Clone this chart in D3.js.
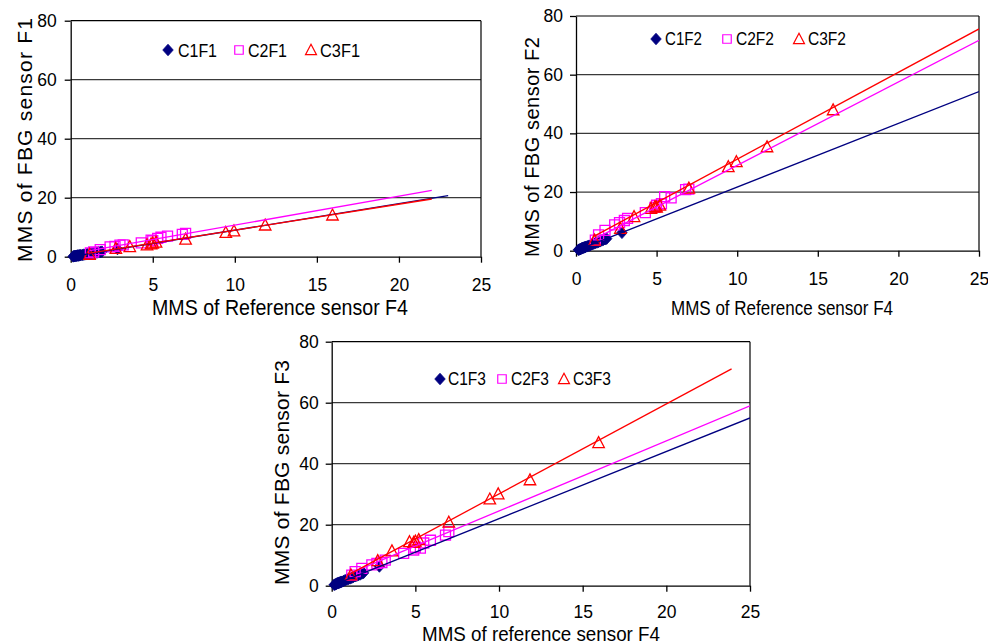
<!DOCTYPE html>
<html>
<head>
<meta charset="utf-8">
<script src="https://cdn.jsdelivr.net/npm/d3@7"></script>
<style>
  html, body { margin: 0; padding: 0; background: #fff; }
  svg { display: block; font-family: "Liberation Sans", Arial, sans-serif; }
</style>
</head>
<body>
<svg id="chart" width="988" height="644"></svg>
<script>
// ---- data -------------------------------------------------------------
const xTicks = [0, 5, 10, 15, 20, 25];
const yTicks = [0, 20, 40, 60, 80];

// C1 (diamonds): cluster near the origin
const c1X = [0.15, 0.2, 0.25, 0.3, 0.35, 0.4, 0.45, 0.5, 0.55, 0.6, 0.7, 0.8, 0.9, 1.0, 1.1, 1.2, 1.3, 1.4, 1.5, 1.6, 1.7, 1.8, 1.9, 2.85];
const c1F1 = [0.1, 0.2, 0.2, 0.3, 0.3, 0.4, 0.4, 0.4, 0.5, 0.5, 0.6, 0.7, 0.8, 0.9, 1.0, 1.1, 1.2, 1.3, 1.3, 1.4, 1.5, 1.6, 1.7, 2.6];
const c1F2 = [0.3, 0.4, 0.5, 0.6, 0.8, 0.9, 1.0, 1.1, 1.2, 1.3, 1.5, 1.7, 1.9, 2.2, 2.4, 2.6, 2.8, 3.0, 3.2, 3.5, 3.7, 3.9, 4.1, 6.1];
const c1F3 = [0.3, 0.4, 0.5, 0.7, 0.8, 0.9, 1.0, 1.1, 1.2, 1.3, 1.5, 1.8, 2.0, 2.2, 2.4, 2.6, 2.9, 3.1, 3.3, 3.5, 3.7, 4.0, 4.2, 6.3];

// C2 (squares)
const c2X = [1.2, 1.4, 1.8, 2.4, 2.7, 3.0, 3.2, 4.3, 4.9, 5.0, 5.3, 5.5, 5.9, 6.8, 7.0];
const c2F1 = [1.3, 1.6, 2.4, 3.3, 3.5, 3.9, 4.0, 4.7, 5.6, 5.4, 6.2, 6.6, 7.0, 7.6, 7.9];
const c2F2 = [3.6, 5.4, 6.9, 8.8, 9.6, 10.3, 11.0, 13.0, 14.8, 15.5, 16.0, 18.4, 18.0, 20.8, 21.0];
const c2F3 = [3.5, 4.6, 5.7, 6.8, 7.3, 7.6, 8.4, 10.6, 11.7, 12.6, 12.3, 14.0, 14.9, 16.6, 17.7];

// C3 (triangles)
const c3X = [1.15, 2.75, 3.6, 4.65, 4.9, 5.0, 5.2, 7.0, 9.45, 9.95, 11.85, 15.95];
const c3F1 = [0.8, 2.8, 3.4, 4.0, 4.3, 4.6, 4.9, 5.9, 8.2, 8.7, 10.7, 14.1];
const c3F2 = [3.6, 7.6, 11.6, 14.4, 15.0, 14.8, 15.5, 21.3, 28.6, 30.3, 35.4, 48.0];
const c3F3 = [3.5, 8.2, 11.4, 14.4, 14.2, 14.6, 15.1, 20.8, 28.4, 30.1, 34.7, 46.9];

// linear trend lines: [slope, intercept, xStart, xEnd]
const trendF1 = [[0.90, 0.0, 0.1, 23], [0.98, 0.9, 1.15, 22], [0.88, 0.2, 1.05, 22]];
const trendF2 = [[2.17, 0.0, 0.2, 25], [2.84, 0.7, 1.2, 25], [2.96, 1.6, 1.05, 25]];
const trendF3 = [[2.20, 0.0, 0.2, 25], [2.30, 1.5, 1.2, 25], [2.95, 0.6, 1.0, 23.9]];

const seriesNamesF1 = ["C1F1", "C2F1", "C3F1"];
const seriesNamesF2 = ["C1F2", "C2F2", "C3F2"];
const seriesNamesF3 = ["C1F3", "C2F3", "C3F3"];

const yTitles = ["MMS of FBG sensor F1", "MMS of FBG sensor F2", "MMS of FBG sensor F3"];
const xTitles = ["MMS of Reference sensor F4", "MMS of Reference sensor F4", "MMS of reference sensor F4"];

// ---- styling / layout --------------------------------------------------
const colors = ["#000080", "#FF00FF", "#FF0000"];
const shapes = ["diamond", "square", "triangle"];

const panels = [
  { left: 70.7, right: 481, top: 20.7, bottom: 256.7,
    xLab: 16, yLab: 8,
    yTitle: { x: 32, y: 140, len: 244, size: 21 },
    xTitle: { x: 280, y: 315, len: 256, size: 22 },
    legend: { y: 56.7, markerY: 50, items: [[168, 178, 39], [239, 248, 39], [311, 320, 40]] },
    c1: c1F1, c2: c2F1, c3: c3F1, trend: trendF1, names: seriesNamesF1 },
  { left: 576, right: 979, top: 16, bottom: 250.7,
    xLab: 16, yLab: 7,
    yTitle: { x: 539, y: 147, len: 220, size: 20 },
    xTitle: { x: 782, y: 315, len: 222, size: 20 },
    legend: { y: 45, markerY: 39, items: [[656, 665, 37], [727, 736, 38], [799, 808, 38]] },
    c1: c1F2, c2: c2F2, c3: c3F2, trend: trendF2, names: seriesNamesF2 },
  { left: 331.7, right: 750, top: 341.7, bottom: 585.7,
    xLab: 14, yLab: 7,
    yTitle: { x: 289, y: 472.5, len: 225, size: 21 },
    xTitle: { x: 541, y: 641, len: 238, size: 21 },
    legend: { y: 385, markerY: 379, items: [[440, 448, 38], [502, 511, 38], [564, 573, 38]] },
    c1: c1F3, c2: c2F3, c3: c3F3, trend: trendF3, names: seriesNamesF3 }
];

function markerPath(shape, s) {
  const h = s / 2;
  if (shape === "diamond") return `M0,${-h * 1.1}L${h},0L0,${h * 1.1}L${-h},0Z`;
  if (shape === "square") return `M${-h},${-h}H${h}V${h}H${-h}Z`;
  return `M0,${-h * 1.05}L${h},${h * 0.85}L${-h},${h * 0.85}Z`;
}

const svg = d3.select("#chart");

panels.forEach((p, i) => {
  const g = svg.append("g");
  const x = d3.scaleLinear().domain([0, 25]).range([p.left, p.right]);
  const y = d3.scaleLinear().domain([0, 80]).range([p.bottom, p.top]);

  const clipId = "clip" + i;
  svg.append("clipPath").attr("id", clipId)
    .append("rect").attr("x", p.left).attr("y", p.top)
    .attr("width", p.right - p.left).attr("height", p.bottom - p.top);

  // gridlines
  g.selectAll(".grid").data(yTicks.filter(v => v > 0)).enter().append("line")
    .attr("x1", p.left).attr("x2", p.right)
    .attr("y1", d => y(d)).attr("y2", d => y(d))
    .attr("stroke", d => d === 80 ? "#000" : "#3a3a3a").attr("stroke-width", 1.2);
  // right border
  g.append("line").attr("x1", p.right).attr("x2", p.right)
    .attr("y1", p.top).attr("y2", p.bottom).attr("stroke", "#000").attr("stroke-width", 1.2);

  // axes
  const xAxis = d3.axisBottom(x).tickValues(xTicks).tickSize(6).tickSizeOuter(0).tickPadding(p.xLab);
  const yAxis = d3.axisLeft(y).tickValues(yTicks).tickSize(6).tickSizeOuter(0).tickPadding(p.yLab);
  const gx = g.append("g").attr("transform", `translate(0,${p.bottom})`).call(xAxis);
  const gy = g.append("g").attr("transform", `translate(${p.left},0)`).call(yAxis);
  [gx, gy].forEach(a => {
    a.selectAll("path,line").attr("stroke", "#000").attr("stroke-width", 1.3);
    a.selectAll("text").attr("font-size", 17.5).attr("fill", "#000")
      .attr("font-family", "'Liberation Sans', Arial, sans-serif");
  });

  // markers
  const series = [[c1X, p.c1], [c2X, p.c2], [c3X, p.c3]];
  series.forEach(([xs, ys], k) => {
    const pts = xs.map((v, j) => [v, ys[j]]);
    const size = k === 0 ? 10.5 : (k === 1 ? 10 : 11.5);
    g.append("g").selectAll("path").data(pts).enter().append("path")
      .attr("transform", d => `translate(${x(d[0])},${y(d[1])})`)
      .attr("d", markerPath(shapes[k], size))
      .attr("fill", k === 0 ? colors[0] : "none")
      .attr("stroke", colors[k]).attr("stroke-width", k === 0 ? 0.8 : 1.3);
  });

  // trend lines
  const line = d3.line().x(d => x(d[0])).y(d => y(d[1]));
  p.trend.forEach((t, k) => {
    const [m, b, x0, x1] = t;
    g.append("path").datum([[x0, m * x0 + b], [x1, m * x1 + b]])
      .attr("d", line).attr("clip-path", `url(#${clipId})`)
      .attr("fill", "none").attr("stroke", colors[k]).attr("stroke-width", 1.3);
  });

  // legend
  p.legend.items.forEach((it, k) => {
    const [mx, tx, tl] = it;
    g.append("path").attr("transform", `translate(${mx},${p.legend.markerY})`)
      .attr("d", markerPath(shapes[k], k === 0 ? 10.5 : (k === 1 ? 8.5 : 11)))
      .attr("fill", k === 0 ? colors[0] : "none")
      .attr("stroke", colors[k]).attr("stroke-width", k === 0 ? 0.8 : 1.2);
    g.append("text").attr("x", tx).attr("y", p.legend.y)
      .attr("font-size", 18.5).attr("fill", "#000")
      .attr("textLength", tl).attr("lengthAdjust", "spacingAndGlyphs")
      .text(p.names[k]);
  });

  // axis titles
  g.append("text")
    .attr("transform", `translate(${p.yTitle.x},${p.yTitle.y}) rotate(-90)`)
    .attr("text-anchor", "middle").attr("font-size", p.yTitle.size).attr("fill", "#000")
    .attr("textLength", p.yTitle.len).attr("lengthAdjust", "spacing")
    .text(yTitles[i]);
  g.append("text")
    .attr("x", p.xTitle.x - p.xTitle.len / 2).attr("y", p.xTitle.y)
    .attr("font-size", p.xTitle.size).attr("fill", "#000")
    .attr("textLength", p.xTitle.len).attr("lengthAdjust", "spacingAndGlyphs")
    .text(xTitles[i]);
});
</script>
</body>
</html>
